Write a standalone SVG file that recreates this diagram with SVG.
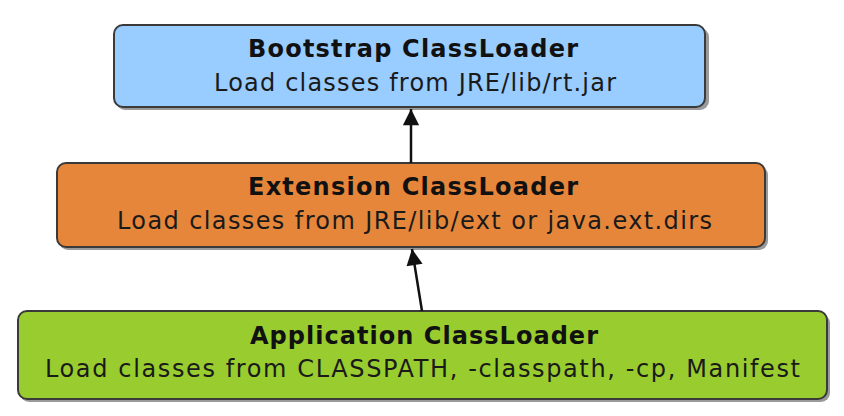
<svg xmlns="http://www.w3.org/2000/svg" width="844" height="416" viewBox="0 0 844 416">
<defs>
<style>
.box{stroke:#3a3a3a;stroke-width:2}
.shadow{fill:#9a9a9a}
.t{font-family:"DejaVu Sans",Verdana,sans-serif;font-weight:bold;font-size:24px;fill:#111}
.s{font-family:"DejaVu Sans",Verdana,sans-serif;font-size:24px;fill:#1a1a1a}
.conn{stroke:#111;stroke-width:2.5;fill:none}
</style>
<marker id="ah" viewBox="0 0 10 10" refX="10" refY="5" markerWidth="7" markerHeight="6.5" markerUnits="strokeWidth" orient="auto">
<path d="M0,0 L10,5 L0,10 z" fill="#111"/>
</marker>
</defs>
<rect width="844" height="416" fill="#fff"/>
<g id="bootstrap">
<rect class="shadow" x="116" y="28" width="593" height="82" rx="9"/>
<rect class="box" x="114" y="25" width="591" height="82" rx="9" fill="#99ccff"/>
<text class="t" x="248" y="57" textLength="330" lengthAdjust="spacing">Bootstrap ClassLoader</text>
<text class="s" x="214" y="91" textLength="402" lengthAdjust="spacing">Load classes from JRE/lib/rt.jar</text>
</g>
<g id="extension">
<rect class="shadow" x="59" y="166" width="709" height="84" rx="9"/>
<rect class="box" x="57" y="163" width="708" height="84" rx="9" fill="#e6863b"/>
<text class="t" x="248" y="195" textLength="330" lengthAdjust="spacing">Extension ClassLoader</text>
<text class="s" x="117" y="229" textLength="595" lengthAdjust="spacing">Load classes from JRE/lib/ext or java.ext.dirs</text>
</g>
<g id="application">
<rect class="shadow" x="20" y="314" width="810" height="88" rx="9"/>
<rect class="box" x="18" y="311" width="809" height="88" rx="9" fill="#99cc2e"/>
<text class="t" x="250" y="344" textLength="348" lengthAdjust="spacing">Application ClassLoader</text>
<text class="s" x="45" y="377" textLength="755" lengthAdjust="spacing">Load classes from CLASSPATH, -classpath, -cp, Manifest</text>
</g>
<g id="connectors">
<line class="conn" x1="411" y1="163" x2="411" y2="109" marker-end="url(#ah)"/>
<line class="conn" x1="422" y1="311" x2="412" y2="249" marker-end="url(#ah)"/>
</g>
</svg>
